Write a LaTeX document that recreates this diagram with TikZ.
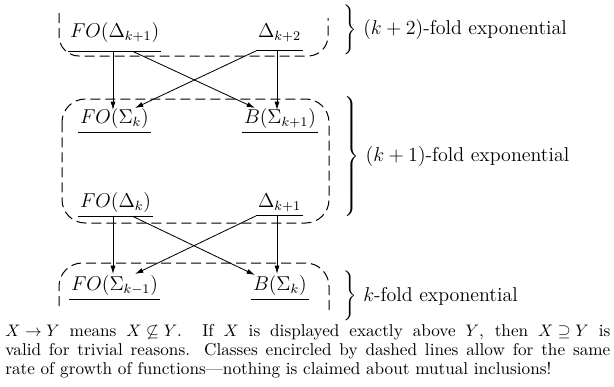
\documentclass[tikz,border=0pt]{standalone}
\usetikzlibrary{calc,arrows.meta}
\newcommand\mycapfont{\fontsize{10.3}{12.4}\selectfont\thickmuskip=5mu\relax\medmuskip=4mu\relax}
\begin{document}
\begin{tikzpicture}[x=0.6pt,y=-0.6pt,
  cls/.style={font=\large, inner xsep=1pt, inner ysep=2.5pt, anchor=base west},
  clsdeep/.style={cls, inner ysep=5.5pt},
  ul/.style={line width=0.5pt},
  arr/.style={line width=0.5pt,-{Latex[length=5pt,width=3pt]}},
  dbox/.style={line width=0.6pt,dash pattern=on 6pt off 3pt},
  lbl/.style={font=\large, anchor=west, inner sep=0pt},
  captxt/.style={font=\mycapfont, anchor=base west, inner sep=0pt}]
\useasboundingbox (0,0) rectangle (614,386);
% nodes
\node[clsdeep] (a1) at (68,37) {$FO(\Delta_{k+1})$};
\node[clsdeep] (a2) at (256,37) {$\Delta_{k+2}$};
\node[cls] (b1) at (78,123) {$FO(\Sigma_{k})$};
\node[cls] (b2) at (242,123) {$B(\Sigma_{k+1})$};
\node[cls] (c1) at (78,207) {$FO(\Delta_{k})$};
\node[cls] (c2) at (256,207) {$\Delta_{k+1}$};
\node[cls] (d1) at (69,290) {$FO(\Sigma_{k-1})$};
\node[cls] (d2) at (251,290) {$B(\Sigma_{k})$};
% underlines
\foreach \n in {a1,a2,b1,b2,c1,c2,d1,d2}
  \draw[ul] (\n.south west) -- (\n.south east);
% dashed boxes
\draw[dbox, rounded corners=12] (59,13) -- (59,56) -- (328,56) -- (328,18);
\draw[dbox, rounded corners=14] (62,99) rectangle (329,223);
\draw[dbox, rounded corners=14] (59,306) -- (59,263) -- (329,263) -- (329,312);
% arrows top
\draw[arr] ($(a1.south west)+(45,0)$) -- ($(b1.base west)+(35,-13)$);
\draw[arr] ($(a2.south west)+(21,0)$) -- ($(b2.base west)+(35,-13)$);
\draw[arr] ($(a1.south west)+(65,0)$) -- ($(b2.base west)+(13,-15)$);
\draw[arr] (a2.south west) -- ($(b1.base west)+(57,-15)$);
% arrows bottom
\draw[arr] ($(c1.south west)+(35,0)$) -- ($(d1.base west)+(44,-16)$);
\draw[arr] ($(c2.south west)+(21,0)$) -- ($(d2.base west)+(26,-16)$);
\draw[arr] ($(c1.south west)+(55,0)$) -- ($(d2.base west)+(4,-15)$);
\draw[arr] (c2.south west) -- ($(d1.base west)+(66,-16)$);
% braces
\node[lbl] (br1) at (341,29.5) {$\left.\vrule height 11pt depth 11pt width 0pt\right\}$\ $(k+2)$-fold exponential};
\node[lbl] (br2) at (342,158) {$\left.\vrule height 34.5pt depth 34.5pt width 0pt\right\}$\ $(k+1)$-fold exponential};
\node[lbl] (br3) at (341,296) {$\left.\vrule height 11pt depth 11pt width 0pt\right\}$\ $k$-fold exponential};
% caption
\node[captxt] (t1) at (5,336) {\makebox[363pt][s]{$X\to Y$ means $X\not\subseteq Y$. If $X$ is displayed exactly above $Y$, then $X\supseteq Y$ is}};
\node[captxt] (t2) at (5,355) {\makebox[363pt][s]{valid for trivial reasons. Classes encircled by dashed lines allow for the same}};
\node[captxt] (t3) at (5,374) {rate of growth of functions---nothing is claimed about mutual inclusions!};
\end{tikzpicture}
\end{document}
